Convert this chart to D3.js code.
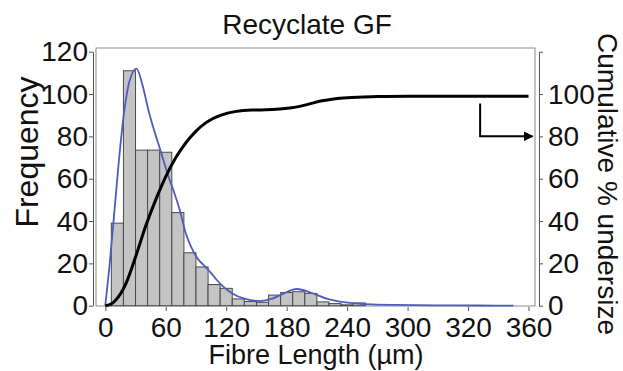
<!DOCTYPE html>
<html>
<head>
<meta charset="utf-8">
<script src="https://cdn.jsdelivr.net/npm/d3@7"></script>
<style>
  body { margin: 0; background: #fff; }
  text { font-family: "Liberation Sans", Arial, sans-serif; fill: #111; }
</style>
</head>
<body>
<svg id="chart"></svg>
<script>
const w = 623;
const h = 371;

// histogram bins (centre, µm) and counts
const binCentres = [12, 24, 36, 48, 60, 72, 84, 96, 108, 120, 132, 144, 156, 168, 180, 192, 204, 216, 228, 240, 252];
const counts = [39, 111, 73.5, 73.5, 72.5, 44, 25, 18.3, 10, 8.2, 3.2, 2, 1.6, 5, 6.2, 6.6, 5.8, 1.8, 1, 0.4, 1.3];
const binWidth = 12;

// fitted frequency curve (blue)
const fitX = [0, 4, 8, 13, 18, 24, 31, 37, 43, 49, 55, 62, 68, 74, 80, 86, 92, 98, 104, 110, 116, 126, 139, 154, 165, 175, 190, 205, 218, 230, 245, 265, 290, 330, 370, 405];
const fitY = [0, 18, 39, 66, 89, 106, 112, 104, 92, 82, 73, 62, 54, 45, 34, 27, 22, 19, 16, 12.5, 9.5, 5.8, 3.2, 2.2, 3.2, 5.3, 7.9, 6, 3.6, 2.2, 1.2, 0.6, 0.35, 0.2, 0.1, 0];

// cumulative % undersize (black)
const cumX = [0, 5, 10, 20, 30, 40, 50, 60, 70, 80, 90, 100, 115, 130, 150, 170, 185, 200, 215, 240, 270, 300, 420];
const cumY = [0, 0.6, 2.5, 10, 23, 37.5, 50, 61, 70, 77, 82.5, 86.5, 90, 91.8, 92.5, 92.8, 93.5, 95, 96.8, 98.3, 98.8, 99, 99];

const xTicks = [0, 60, 120, 180, 240, 300, 360, 420];
const xTickLabels = ["0", "60", "120", "180", "240", "300", "320", "360"];
const yTicks = [0, 20, 40, 60, 80, 100, 120];
const y2Labels = [0, 20, 40, 60, 80, 100];

// arrow pointing to the right-hand axis
const arrowX = [372, 372, 424];
const arrowY = [95.5, 80, 80];

const svg = d3.select("#chart")
  .attr("width", w)
  .attr("height", h);

const xScale = d3.scaleLinear().domain([0, 420]).range([105.3, 528.5]);
const yScale = d3.scaleLinear().domain([0, 120]).range([305.7, 51.7]);
const y2Scale = d3.scaleLinear().domain([0, 120]).range([305.7, 51.7]);

// plot frame
svg.append("rect")
  .attr("x", 96).attr("y", 48)
  .attr("width", 439).attr("height", 258)
  .attr("fill", "none")
  .attr("stroke", "#8a8a8a")
  .attr("stroke-width", 1);

// bars
svg.selectAll("rect.bar")
  .data(binCentres)
  .enter()
  .append("rect")
  .attr("class", "bar")
  .attr("x", d => xScale(d - binWidth / 2))
  .attr("y", (d, i) => yScale(counts[i]))
  .attr("width", d => xScale(d + binWidth / 2) - xScale(d - binWidth / 2))
  .attr("height", (d, i) => yScale(0) - yScale(counts[i]))
  .attr("fill", "#c4c4c4")
  .attr("stroke", "#4a4a4a")
  .attr("stroke-width", 1);

const fitLine = d3.line()
  .x(d => xScale(d[0]))
  .y(d => yScale(d[1]))
  .curve(d3.curveMonotoneX);

svg.append("path")
  .datum(fitX.map((x, i) => [x, fitY[i]]))
  .attr("d", fitLine)
  .attr("fill", "none")
  .attr("stroke", "#4c5cbf")
  .attr("stroke-width", 1.8);

const cumLine = d3.line()
  .x(d => xScale(d[0]))
  .y(d => y2Scale(d[1]))
  .curve(d3.curveMonotoneX);

svg.append("path")
  .datum(cumX.map((x, i) => [x, cumY[i]]))
  .attr("d", cumLine)
  .attr("fill", "none")
  .attr("stroke", "#000")
  .attr("stroke-width", 3);

// arrow
svg.append("defs").append("marker")
  .attr("id", "head")
  .attr("viewBox", "0 0 10 10")
  .attr("refX", 9).attr("refY", 5)
  .attr("markerWidth", 5).attr("markerHeight", 5)
  .attr("orient", "auto")
  .append("path")
  .attr("d", "M0,0L10,5L0,10z")
  .attr("fill", "#000");

svg.append("path")
  .datum(arrowX.map((x, i) => [x, arrowY[i]]))
  .attr("d", d3.line().x(d => xScale(d[0])).y(d => y2Scale(d[1])))
  .attr("fill", "none")
  .attr("stroke", "#000")
  .attr("stroke-width", 2)
  .attr("marker-end", "url(#head)");

// axes
const xAxis = d3.axisBottom(xScale)
  .tickValues(xTicks)
  .tickFormat((d, i) => xTickLabels[i])
  .tickSize(4)
  .tickSizeOuter(0)
  .tickPadding(6);

const yAxis = d3.axisLeft(yScale)
  .tickValues(yTicks)
  .tickSize(4)
  .tickSizeOuter(0)
  .tickPadding(1);

const y2Axis = d3.axisRight(y2Scale)
  .tickValues(yTicks)
  .tickFormat(d => y2Labels.includes(d) ? d : "")
  .tickSize(4)
  .tickSizeOuter(0)
  .tickPadding(5);

const gx = svg.append("g")
  .attr("id", "x-axis")
  .attr("transform", "translate(0,307)")
  .call(xAxis);

const gy = svg.append("g")
  .attr("id", "y-axis")
  .attr("transform", "translate(93,0)")
  .call(yAxis);

const gy2 = svg.append("g")
  .attr("id", "y2-axis")
  .attr("transform", "translate(539,0)")
  .call(y2Axis);

[gx, gy, gy2].forEach(g => {
  g.selectAll("path, line").attr("stroke", "#555");
  g.selectAll("text")
    .style("font-family", "Liberation Sans, Arial, sans-serif")
    .style("font-size", "28px")
    .attr("fill", "#111");
});
gx.select(".domain").remove();

// titles
svg.append("text")
  .attr("x", 307).attr("y", 34)
  .attr("text-anchor", "middle")
  .style("font-size", "28px")
  .text("Recyclate GF");

svg.append("text")
  .attr("x", 316).attr("y", 364)
  .attr("text-anchor", "middle")
  .style("font-size", "27px")
  .text("Fibre Length (µm)");

svg.append("text")
  .attr("transform", "translate(38,152) rotate(-90)")
  .attr("text-anchor", "middle")
  .style("font-size", "32px")
  .text("Frequency");

svg.append("text")
  .attr("transform", "translate(598,184) rotate(90)")
  .attr("text-anchor", "middle")
  .style("font-size", "28px")
  .text("Cumulative % undersize");
</script>
</body>
</html>
